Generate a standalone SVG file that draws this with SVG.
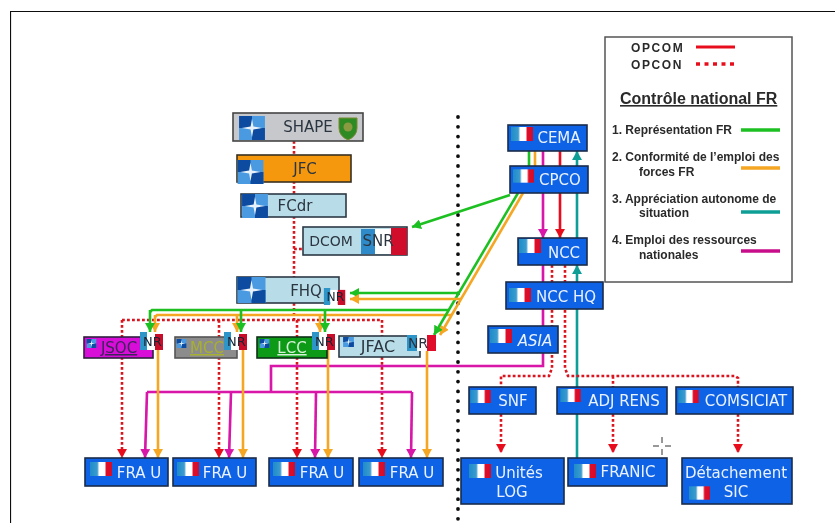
<svg xmlns="http://www.w3.org/2000/svg" width="835" height="523" viewBox="0 0 835 523">
<style>
text{font-family:"DejaVu Sans","Liberation Sans",sans-serif}
.b{fill:#0f62e6;stroke:#1c2b4a;stroke-width:1.6}
.lb{fill:#b8dde8;stroke:#2a3a44;stroke-width:1.6}
.wt{fill:#eaf2ff;font-size:15px;text-anchor:middle}
.dk{fill:#2c3640;font-size:15px;text-anchor:middle}
.c{fill:none;stroke-width:2.6}
.red{stroke:#e8101c}.rd{stroke:#d8141f;stroke-width:2.6;stroke-dasharray:2.8 2.2}
.gr{stroke:#1fc020}.or{stroke:#f5a623}.te{stroke:#0f9e96}.ma{stroke:#d812a8}
.lg{font-family:"Liberation Sans",Arial,sans-serif;font-size:12px;font-weight:bold;fill:#2a2a2a}
</style>
<defs>
<linearGradient id="fl"><stop offset="0" stop-color="#1f8cc8"/><stop offset=".33" stop-color="#3a9bd0"/><stop offset=".42" stop-color="#fff"/><stop offset=".66" stop-color="#fff"/><stop offset=".75" stop-color="#e0102a"/><stop offset="1" stop-color="#d0102a"/></linearGradient>
<symbol id="flag" viewBox="0 0 22 14"><rect width="22" height="14" fill="url(#fl)"/></symbol>
<symbol id="nato" viewBox="0 0 28 26"><rect width="28" height="26" fill="#4a9ae0"/><rect width="14" height="13" fill="#0d4ba0"/><rect x="14" y="13" width="14" height="13" fill="#0d4ba0"/><path d="M14 3L15.5 11.500L25 13L15.500 14.500L14 23L12.500 14.500L3 13L12.500 11.500Z" fill="#e8f2fa"/></symbol>
<symbol id="nr" viewBox="0 0 23 18"><rect x="0" y="0" width="7" height="18" fill="#2f95c8"/><rect x="7" y="2" width="8" height="16" fill="#fff"/><rect x="15" y="2" width="8" height="16" fill="#c8102a"/><text x="12.500" y="14" font-size="13" text-anchor="middle" fill="#1c2230">NR</text></symbol>
<marker id="ar" markerUnits="userSpaceOnUse" markerWidth="10" markerHeight="10" refX="9" refY="5" orient="auto"><path d="M0 0L9 5L0 10Z" fill="#e8101c"/></marker>
<marker id="ag" markerUnits="userSpaceOnUse" markerWidth="10" markerHeight="10" refX="9" refY="5" orient="auto"><path d="M0 0L9 5L0 10Z" fill="#1fc020"/></marker>
<marker id="ao" markerUnits="userSpaceOnUse" markerWidth="10" markerHeight="10" refX="9" refY="5" orient="auto"><path d="M0 0L9 5L0 10Z" fill="#f5a623"/></marker>
<marker id="at" markerUnits="userSpaceOnUse" markerWidth="10" markerHeight="10" refX="9" refY="5" orient="auto"><path d="M0 0L9 5L0 10Z" fill="#0f9e96"/></marker>
<marker id="am" markerUnits="userSpaceOnUse" markerWidth="10" markerHeight="10" refX="9" refY="5" orient="auto"><path d="M0 0L9 5L0 10Z" fill="#d812a8"/></marker>
<filter id="soft" x="0" y="0" width="100%" height="100%"><feGaussianBlur stdDeviation="0.45"/></filter>
</defs>
<rect width="835" height="523" fill="#fff"/>
<g filter="url(#soft)">
<path d="M10 523V11H835" fill="none" stroke="#111" stroke-width="2.2"/>
<g id="connectors">
<path class="c" style="stroke:#111;stroke-width:3.8;stroke-linecap:round;stroke-dasharray:0 9.8" d="M458 117V520"/>
<path class="c rd" d="M294 141V277M294 249H303M294 303V320M122 320H382M122 320V337M219 320V337M297 320V337M382 320V337"/>
<path class="c rd" marker-end="url(#ar)" d="M122 357V458"/><path class="c rd" marker-end="url(#ar)" d="M219 357V458"/><path class="c rd" marker-end="url(#ar)" d="M297 357V458"/><path class="c rd" marker-end="url(#ar)" d="M382 357V458"/>
<path class="c ma" d="M543 265V366H271V392M147 392H412"/>
<path class="c ma" marker-end="url(#am)" d="M147 392L145 458"/><path class="c ma" marker-end="url(#am)" d="M231 392L229 458"/><path class="c ma" marker-end="url(#am)" d="M316 392L315 458"/><path class="c ma" marker-end="url(#am)" d="M412 392L411 458"/>
<path class="c ma" marker-end="url(#am)" d="M543 151V238"/>
<path class="c red" marker-end="url(#ar)" d="M560 151V238"/>
<path class="c te" marker-end="url(#at)" d="M577 238V151"/>
<path class="c te" marker-end="url(#at)" d="M577 458V265"/>
<path class="c rd" d="M552 265V368L549 376H501V387M565 265V368L568 376H735L738 378V387M613 376V387"/>
<path class="c rd" marker-end="url(#ar)" d="M501 414V453"/><path class="c rd" marker-end="url(#ar)" d="M613 414V453"/><path class="c rd" marker-end="url(#ar)" d="M738 414V453"/>
<path class="c gr" d="M529 151V166"/><path class="c or" d="M535 151V166"/>
<path class="c gr" marker-end="url(#ag)" d="M510 195L412 227"/>
<path class="c or" d="M452 315H157L155 317"/>
<path class="c or" marker-end="url(#ao)" d="M523 193L440 335"/>
<path class="c gr" marker-end="url(#ag)" d="M518 193L434 335"/>
<path class="c gr" marker-end="url(#ag)" d="M459 293H350"/>
<path class="c or" marker-end="url(#ao)" d="M461 299H350"/>
<path class="c or" marker-end="url(#ao)" d="M155 315V332"/><path class="c or" marker-end="url(#ao)" d="M237 315V332"/><path class="c or" marker-end="url(#ao)" d="M320 315V332"/>
<path class="c gr" d="M449 310H152L150 312"/>
<path class="c gr" marker-end="url(#ag)" d="M150 310V332"/><path class="c gr" marker-end="url(#ag)" d="M241 310V332"/><path class="c gr" marker-end="url(#ag)" d="M325 310V332"/>
<path class="c or" marker-end="url(#ao)" d="M158 350V458"/><path class="c or" marker-end="url(#ao)" d="M243 350V458"/><path class="c or" marker-end="url(#ao)" d="M328 350V458"/><path class="c or" marker-end="url(#ao)" d="M427 350V458"/>
</g>
<g id="shape"><rect x="233" y="113" width="130" height="28" fill="#c6c8cc" stroke="#444" stroke-width="1.6"/><use href="#nato" x="238" y="116" width="28" height="24"/><text x="308" y="132" class="dk">SHAPE</text><path d="M339 118H357V128Q357 136 348 140Q339 136 339 128Z" fill="#2f8a24" stroke="#7a8a30"/><circle cx="348" cy="127" r="4.500" fill="#8a9a40"/></g>
<g id="jfc"><rect x="237" y="155" width="114" height="27" fill="#f5980e" stroke="#3a3020" stroke-width="1.600"/><use href="#nato" x="237" y="160" width="27" height="24"/><text x="305" y="174" class="dk">JFC</text></g>
<g id="fcdr"><rect x="241" y="194" width="105" height="23" class="lb"/><use href="#nato" x="241" y="194" width="28" height="24"/><text x="295" y="211" class="dk">FCdr</text></g>
<g id="dcom"><rect x="303" y="227" width="104" height="28" class="lb"/><rect x="361" y="229" width="14" height="25" fill="#2f8ac8"/><rect x="375" y="229" width="16" height="25" fill="#fff"/><rect x="391" y="228" width="16" height="27" fill="#d0102a"/><text x="331" y="246" class="dk" style="font-size:14px">DCOM</text><text x="378" y="246" class="dk">SNR</text></g>
<g id="fhq"><rect x="237" y="277" width="102" height="26" class="lb"/><use href="#nato" x="237" y="277" width="29" height="26"/><text x="306" y="296" class="dk">FHQ</text><use href="#nr" x="323" y="288" width="23" height="17"/></g>
<g id="jsoc"><rect x="84" y="337" width="69" height="21" fill="#d808d8" stroke="#302040" stroke-width="1.600"/><use href="#nato" x="86" y="339" width="11" height="9"/><text x="119" y="353" class="dk" style="fill:#3a2858;text-decoration:underline">JSOC</text><use href="#nr" x="140" y="332" width="23" height="18"/></g>
<g id="mcc"><rect x="175" y="337" width="62" height="21" fill="#8c8c8c" stroke="#555" stroke-width="1.600"/><use href="#nato" x="176" y="339" width="11" height="9"/><text x="207" y="353" class="dk" style="fill:#a8b030;text-decoration:underline">MCC</text><use href="#nr" x="224" y="332" width="23" height="18"/></g>
<g id="lcc"><rect x="257" y="337" width="70" height="21" fill="#0a9a14" stroke="#103018" stroke-width="1.600"/><use href="#nato" x="259" y="339" width="11" height="9"/><text x="292" y="353" class="dk" style="fill:#d8f0d8;text-decoration:underline">LCC</text><use href="#nr" x="312" y="332" width="23" height="18"/></g>
<g id="jfac"><rect x="339" y="336" width="81" height="21" class="lb"/><use href="#nato" x="341" y="337" width="15" height="10"/><text x="378" y="352" class="dk" style="font-size:16px">JFAC</text><rect x="407" y="335" width="10" height="16" fill="#2f95c8"/><rect x="417" y="335" width="10" height="16" fill="#fff"/><rect x="427" y="335" width="9" height="16" fill="#e0102a"/><text x="418" y="348" font-size="14" text-anchor="middle" fill="#2a3040">NR</text></g>
<g id="frau1"><rect x="85" y="458" width="83" height="28" class="b"/><use href="#flag" x="90" y="462" width="22" height="14"/><text x="139" y="478" class="wt">FRA U</text></g>
<g id="frau2"><rect x="173" y="458" width="83" height="28" class="b"/><use href="#flag" x="177" y="462" width="22" height="14"/><text x="225" y="478" class="wt">FRA U</text></g>
<g id="frau3"><rect x="269" y="458" width="84" height="28" class="b"/><use href="#flag" x="273" y="462" width="22" height="14"/><text x="322" y="478" class="wt">FRA U</text></g>
<g id="frau4"><rect x="359" y="458" width="84" height="28" class="b"/><use href="#flag" x="363" y="462" width="22" height="14"/><text x="412" y="478" class="wt">FRA U</text></g>
<g id="cema"><rect x="508" y="125" width="79" height="26" class="b"/><use href="#flag" x="511" y="127" width="22" height="14"/><text x="559" y="143" class="wt">CEMA</text></g>
<g id="cpco"><rect x="510" y="166" width="78" height="27" class="b"/><use href="#flag" x="513" y="169" width="21" height="14"/><text x="560" y="185" class="wt">CPCO</text></g>
<g id="ncc"><rect x="518" y="238" width="69" height="27" class="b"/><use href="#flag" x="519" y="239" width="22" height="14"/><text x="564" y="258" class="wt">NCC</text></g>
<g id="ncchq"><rect x="506" y="282" width="97" height="27" class="b"/><use href="#flag" x="509" y="288" width="22" height="14"/><text x="566" y="302" class="wt">NCC HQ</text></g>
<g id="asia"><rect x="488" y="326" width="70" height="27" class="b"/><use href="#flag" x="490" y="329" width="22" height="14"/><text x="535" y="346" class="wt" style="font-style:italic">ASIA</text></g>
<g id="snf"><rect x="469" y="387" width="67" height="27" class="b"/><use href="#flag" x="470" y="390" width="21" height="13"/><text x="513" y="406" class="wt">SNF</text></g>
<g id="adj"><rect x="557" y="387" width="110" height="27" class="b"/><use href="#flag" x="560" y="389" width="21" height="13"/><text x="624" y="406" class="wt">ADJ RENS</text></g>
<g id="comsiciat"><rect x="676" y="387" width="117" height="27" class="b"/><use href="#flag" x="678" y="390" width="21" height="13"/><text x="746" y="406" class="wt">COMSICIAT</text></g>
<g id="log"><rect x="461" y="458" width="103" height="46" class="b"/><use href="#flag" x="469" y="464" width="22" height="14"/><text x="519" y="478" class="wt">Unités</text><text x="512" y="497" class="wt">LOG</text></g>
<g id="franic"><rect x="568" y="458" width="99" height="28" class="b"/><use href="#flag" x="574" y="464" width="22" height="14"/><text x="628" y="477" class="wt">FRANIC</text></g>
<g id="sic"><rect x="682" y="458" width="110" height="46" class="b"/><text x="736" y="478" class="wt">Détachement</text><use href="#flag" x="689" y="486" width="21" height="14"/><text x="736" y="497" class="wt">SIC</text></g>
<g id="legend"><rect x="605" y="37" width="187" height="245" fill="#fff" stroke="#555" stroke-width="1.500"/>
<text x="631" y="52" class="lg" style="letter-spacing:1.6px">OPCOM</text><text x="631" y="69" class="lg" style="letter-spacing:1.6px">OPCON</text>
<path d="M696 47H735" stroke="#e8101c" stroke-width="3"/><path d="M696 64H735" stroke="#e8101c" stroke-width="3.500" stroke-dasharray="4 4.500"/>
<text x="620" y="104" class="lg" style="font-size:16px;text-decoration:underline">Contrôle national FR</text>
<text x="612" y="134" class="lg">1. Représentation FR</text><path d="M741 130H780" stroke="#1fc020" stroke-width="3.500"/>
<text x="612" y="161" class="lg">2. Conformité de l’emploi des</text><text x="639" y="176" class="lg">forces FR</text><path d="M741 168H780" stroke="#f5a623" stroke-width="3.500"/>
<text x="612" y="203" class="lg">3. Appréciation autonome de</text><text x="639" y="217" class="lg">situation</text><path d="M741 212H780" stroke="#0f9e96" stroke-width="3.500"/>
<text x="612" y="244" class="lg">4. Emploi des ressources</text><text x="639" y="259" class="lg">nationales</text><path d="M741 251H780" stroke="#c8108a" stroke-width="3.500"/></g>
<path d="M653 446H659M665 446H671M662 437V443M662 449V455" stroke="#333" stroke-width="1" fill="none"/>
</g>
</svg>
